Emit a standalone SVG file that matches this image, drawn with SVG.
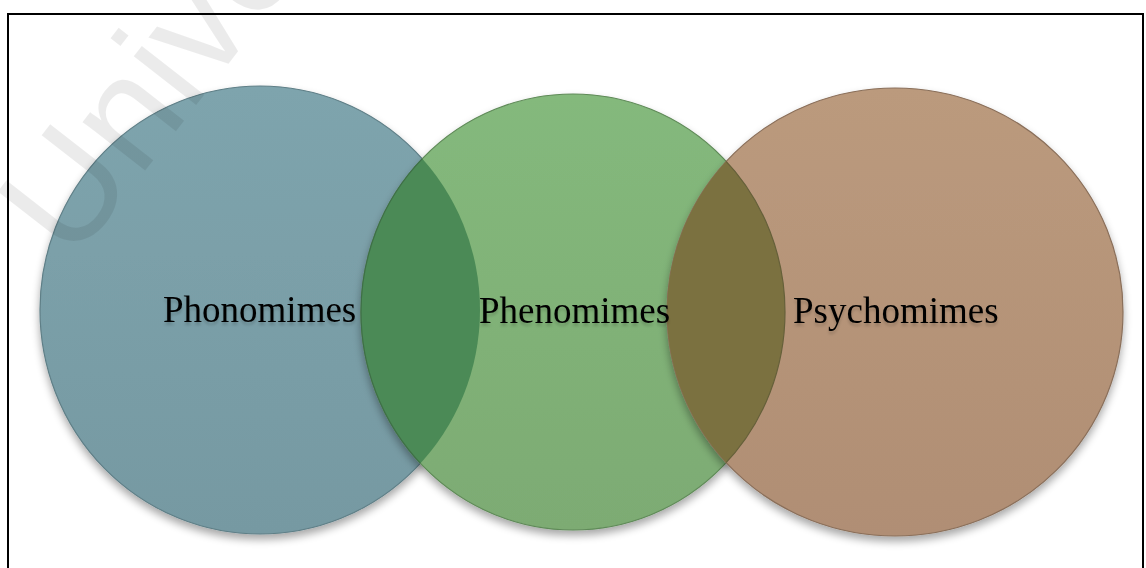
<svg xmlns="http://www.w3.org/2000/svg" width="1146" height="568" viewBox="0 0 1146 568">
  <style>
    .lbl { font-family: "Liberation Serif", "Times New Roman", serif; font-size: 37px; fill: #000; }
    .wm { font-family: "Liberation Sans", Arial, sans-serif; font-size: 150px; fill: #000; fill-opacity: 0.08; }
    .edge { stroke-width: 1.2; }
  </style>
  <defs>
    <filter id="shadow" x="-10%" y="-10%" width="120%" height="125%">
      <feGaussianBlur in="SourceAlpha" stdDeviation="4"/>
      <feOffset dx="0" dy="5" result="b"/>
      <feComponentTransfer><feFuncA type="linear" slope="0.35"/></feComponentTransfer>
      <feMerge><feMergeNode/><feMergeNode in="SourceGraphic"/></feMerge>
    </filter>
    <filter id="tshadow" x="-5%" y="-20%" width="110%" height="160%">
      <feGaussianBlur in="SourceAlpha" stdDeviation="1.5"/>
      <feOffset dx="0" dy="3"/>
      <feComponentTransfer><feFuncA type="linear" slope="0.18"/></feComponentTransfer>
      <feMerge><feMergeNode/><feMergeNode in="SourceGraphic"/></feMerge>
    </filter>
    <linearGradient id="gBlue" x1="0" y1="0" x2="0" y2="1">
      <stop offset="0" stop-color="#7ea4ad"/>
      <stop offset="1" stop-color="#7699a2"/>
    </linearGradient>
    <linearGradient id="gGreen" x1="0" y1="0" x2="0" y2="1">
      <stop offset="0" stop-color="#84b97c"/>
      <stop offset="1" stop-color="#7dab73"/>
    </linearGradient>
    <linearGradient id="gBrown" x1="0" y1="0" x2="0" y2="1">
      <stop offset="0" stop-color="#bb9a7d"/>
      <stop offset="1" stop-color="#b08e74"/>
    </linearGradient>
    <clipPath id="clipBlue"><ellipse cx="260" cy="310" rx="220" ry="224"/></clipPath>
    <clipPath id="clipBrown"><ellipse cx="895" cy="312" rx="228" ry="224"/></clipPath>
  </defs>

  <rect width="1146" height="568" fill="#fff"/>
  <rect x="8" y="14" width="1135" height="570" fill="none" stroke="#000" stroke-width="2"/>

  <g id="node-phonomimes" filter="url(#shadow)">
    <ellipse cx="260" cy="310" rx="220" ry="224" fill="url(#gBlue)" stroke="#5f7f87" class="edge"/>
  </g>
  <g id="node-phenomimes" filter="url(#shadow)">
    <ellipse cx="573" cy="312" rx="212" ry="218" fill="url(#gGreen)" stroke="#5f8a58" class="edge"/>
  </g>
  <g id="node-psychomimes" filter="url(#shadow)">
    <ellipse cx="895" cy="312" rx="228" ry="224" fill="url(#gBrown)" stroke="#8a6f5a" class="edge"/>
  </g>

  <g id="overlaps">
    <ellipse cx="573" cy="312" rx="212" ry="218" clip-path="url(#clipBlue)" fill="#4b8a56" stroke="#3e6f47" class="edge"/>
    <ellipse cx="573" cy="312" rx="212" ry="218" clip-path="url(#clipBrown)" fill="#7b7140" stroke="#66603a" class="edge"/>
  </g>

  <g id="labels" filter="url(#tshadow)">
    <text class="lbl" x="163" y="322">Phonomimes</text>
    <text class="lbl" x="479" y="323">Phenomimes</text>
    <text class="lbl" x="793" y="323">Psychomimes</text>
  </g>

  <g id="connectors"></g>

  <text class="wm" x="72" y="264" transform="rotate(-52 72 264)">Unive</text>
</svg>
